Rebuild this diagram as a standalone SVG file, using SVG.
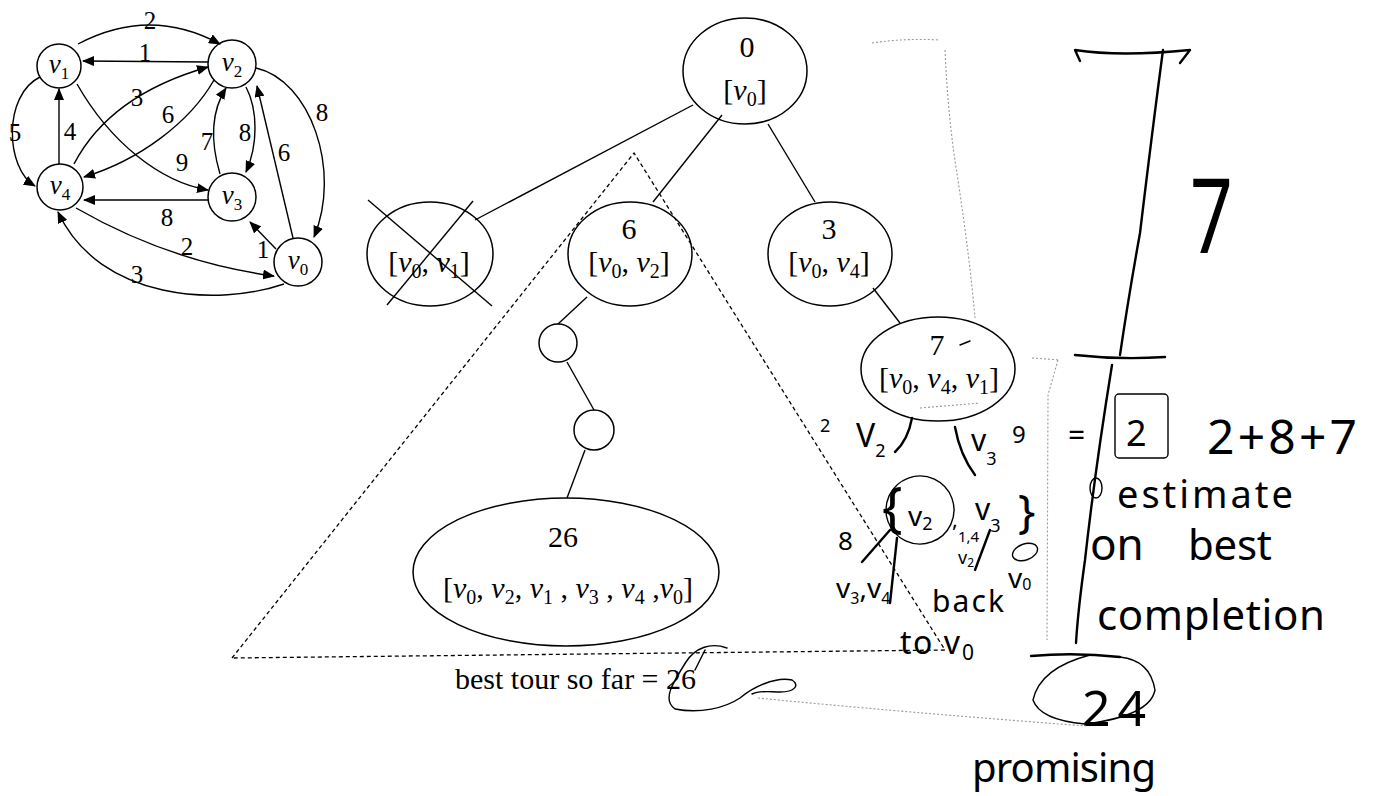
<svg xmlns="http://www.w3.org/2000/svg" width="1376" height="796" viewBox="0 0 1376 796">
<style>
.bg{fill:#fff}
.nd{fill:none;stroke:#000;stroke-width:1.5}
.ed{fill:none;stroke:#000;stroke-width:1.4}
.t{font-family:"Liberation Serif",serif;font-size:30px;fill:#000}
.g{font-family:"Liberation Serif",serif;font-size:27px;fill:#000}
.lb{font-family:"Liberation Serif",serif;font-size:25px;fill:#000;text-anchor:middle}
.i{font-style:italic}
.hw{font-family:"Noto Sans",sans-serif;fill:#000}
.hs{fill:none;stroke:#000;stroke-width:2.4;stroke-linecap:round;stroke-linejoin:round}
.hf{fill:none;stroke:#000;stroke-width:1.4;stroke-linecap:round}
.faint{fill:none;stroke:#999;stroke-width:1.1;stroke-dasharray:2 2}
.dash{fill:none;stroke:#000;stroke-width:1.3;stroke-dasharray:4 3}
</style>
<defs>
<marker id="ah" viewBox="0 0 12 10" refX="11" refY="5" markerWidth="12" markerHeight="10" orient="auto" markerUnits="userSpaceOnUse"><path d="M0,0 L12,5 L0,10 z" fill="#000"/></marker>
</defs>
<rect class="bg" x="0" y="0" width="1376" height="796"/>

<!-- small graph -->
<g id="graph-edges">
<path class="ed" d="M78,44 Q150,6 220,44" marker-end="url(#ah)"/>
<path class="ed" d="M208,62 L83,61" marker-end="url(#ah)"/>
<path class="ed" d="M74,164 Q110,95 208,67" marker-end="url(#ah)"/>
<path class="ed" d="M214,80 C190,122 140,160 84,177" marker-end="url(#ah)"/>
<path class="ed" d="M59,164 L59,89" marker-end="url(#ah)"/>
<path class="ed" d="M40,77 C3,95 5,168 35,186" marker-end="url(#ah)"/>
<path class="ed" d="M77,84 C110,142 160,182 208,190" marker-end="url(#ah)"/>
<path class="ed" d="M220,174 C210,140 212,110 226,88" marker-end="url(#ah)"/>
<path class="ed" d="M246,87 C258,110 258,145 246,172" marker-end="url(#ah)"/>
<path class="ed" d="M293,238 L257,86" marker-end="url(#ah)"/>
<path class="ed" d="M256,68 C310,80 342,170 314,237" marker-end="url(#ah)"/>
<path class="ed" d="M208,200 L84,200" marker-end="url(#ah)"/>
<path class="ed" d="M276,249 L250,222" marker-end="url(#ah)"/>
<path class="ed" d="M76,208 Q170,262 274,276" marker-end="url(#ah)"/>
<path class="ed" d="M284,284 C220,306 100,302 58,212" marker-end="url(#ah)"/>
</g>
<g id="graph-labels">
<text class="lb" x="150" y="29">2</text>
<text class="lb" x="145" y="61">1</text>
<text class="lb" x="137" y="106">3</text>
<text class="lb" x="168" y="123">6</text>
<text class="lb" x="70" y="140">4</text>
<text class="lb" x="15" y="141">5</text>
<text class="lb" x="182" y="171">9</text>
<text class="lb" x="207" y="150">7</text>
<text class="lb" x="245" y="141">8</text>
<text class="lb" x="284" y="161">6</text>
<text class="lb" x="322" y="121">8</text>
<text class="lb" x="167" y="226">8</text>
<text class="lb" x="263" y="258">1</text>
<text class="lb" x="187" y="255">2</text>
<text class="lb" x="137" y="283">3</text>
</g>
<g id="gv1"><circle class="nd" cx="59" cy="66" r="22" fill="#fff"/><text class="g" x="59" y="73" text-anchor="middle"><tspan class="i">v</tspan><tspan font-size="17" dy="6">1</tspan></text></g>
<g id="gv2"><circle class="nd" cx="232" cy="64" r="24" fill="#fff"/><text class="g" x="232" y="71" text-anchor="middle"><tspan class="i">v</tspan><tspan font-size="17" dy="6">2</tspan></text></g>
<g id="gv4"><circle class="nd" cx="60" cy="187" r="23" fill="#fff"/><text class="g" x="60" y="194" text-anchor="middle"><tspan class="i">v</tspan><tspan font-size="17" dy="6">4</tspan></text></g>
<g id="gv3"><circle class="nd" cx="232" cy="197" r="24" fill="#fff"/><text class="g" x="232" y="204" text-anchor="middle"><tspan class="i">v</tspan><tspan font-size="17" dy="6">3</tspan></text></g>
<g id="gv0"><circle class="nd" cx="298" cy="262" r="24" fill="#fff"/><text class="g" x="298" y="269" text-anchor="middle"><tspan class="i">v</tspan><tspan font-size="17" dy="6">0</tspan></text></g>

<!-- tree connectors -->
<g id="tree-edges">
<line class="ed" x1="693" y1="105" x2="475" y2="220"/>
<line class="ed" x1="722" y1="115" x2="653" y2="202"/>
<line class="ed" x1="768" y1="124" x2="815" y2="202"/>
<line class="ed" x1="587" y1="297" x2="558" y2="324"/>
<line class="ed" x1="567" y1="362" x2="594" y2="410"/>
<line class="ed" x1="585" y1="450" x2="567" y2="498"/>
<line class="ed" x1="873" y1="288" x2="900" y2="323"/>
</g>
<polygon id="subtree" class="dash" points="232,658 634,153 945,650"/>

<g id="root"><ellipse class="nd" cx="745" cy="71" rx="62" ry="53"/>
<text class="t" x="747" y="57" text-anchor="middle">0</text>
<text class="t" x="745" y="100" text-anchor="middle">[<tspan class="i">v</tspan><tspan font-size="20" dy="6">0</tspan><tspan dy="-6">]</tspan></text></g>
<g id="n-v0v1"><ellipse class="nd" cx="430" cy="254" rx="63" ry="52"/>
<text class="t" x="429" y="272" text-anchor="middle">[<tspan class="i">v</tspan><tspan font-size="20" dy="6">0</tspan><tspan dy="-6">, </tspan><tspan class="i">v</tspan><tspan font-size="20" dy="6">1</tspan><tspan dy="-6">]</tspan></text>
<line class="ed" x1="368" y1="200" x2="492" y2="306"/><line class="ed" x1="473" y1="201" x2="387" y2="305"/></g>
<g id="n-v0v2"><ellipse class="nd" cx="630" cy="254" rx="62" ry="52"/>
<text class="t" x="629" y="239" text-anchor="middle">6</text>
<text class="t" x="629" y="272" text-anchor="middle">[<tspan class="i">v</tspan><tspan font-size="20" dy="6">0</tspan><tspan dy="-6">, </tspan><tspan class="i">v</tspan><tspan font-size="20" dy="6">2</tspan><tspan dy="-6">]</tspan></text></g>
<g id="n-v0v4"><ellipse class="nd" cx="830" cy="254" rx="62" ry="52"/>
<text class="t" x="829" y="239" text-anchor="middle">3</text>
<text class="t" x="829" y="272" text-anchor="middle">[<tspan class="i">v</tspan><tspan font-size="20" dy="6">0</tspan><tspan dy="-6">, </tspan><tspan class="i">v</tspan><tspan font-size="20" dy="6">4</tspan><tspan dy="-6">]</tspan></text></g>
<g id="n-c1"><circle class="nd" cx="558" cy="343" r="19"/></g>
<g id="n-c2"><circle class="nd" cx="594" cy="430" r="20"/></g>
<g id="n-26"><ellipse class="nd" cx="566" cy="572" rx="153" ry="74"/>
<text class="t" x="563" y="547" text-anchor="middle">26</text>
<text class="t" x="568" y="598" text-anchor="middle">[<tspan class="i">v</tspan><tspan font-size="20" dy="6">0</tspan><tspan dy="-6">, </tspan><tspan class="i">v</tspan><tspan font-size="20" dy="6">2</tspan><tspan dy="-6">, </tspan><tspan class="i">v</tspan><tspan font-size="20" dy="6">1</tspan><tspan dy="-6"> , </tspan><tspan class="i">v</tspan><tspan font-size="20" dy="6">3</tspan><tspan dy="-6"> , </tspan><tspan class="i">v</tspan><tspan font-size="20" dy="6">4</tspan><tspan dy="-6"> ,</tspan><tspan class="i">v</tspan><tspan font-size="20" dy="6">0</tspan><tspan dy="-6">]</tspan></text></g>
<g id="n-v0v4v1"><ellipse class="nd" cx="938" cy="369" rx="77" ry="52"/>
<text class="t" x="937" y="355" text-anchor="middle">7</text>
<text class="t" x="939" y="388" text-anchor="middle">[<tspan class="i">v</tspan><tspan font-size="20" dy="6">0</tspan><tspan dy="-6">, </tspan><tspan class="i">v</tspan><tspan font-size="20" dy="6">4</tspan><tspan dy="-6">, </tspan><tspan class="i">v</tspan><tspan font-size="20" dy="6">1</tspan><tspan dy="-6">]</tspan></text></g>
<text id="best" class="t" x="455" y="689">best tour so far = 26</text>

<!-- handwritten annotations -->
<g id="handwriting">
<path class="hf" d="M960,345 L970,341"/>
<path class="faint" d="M920,408 L980,403"/>
<path class="hs" d="M912,418 Q908,440 895,452"/>
<path class="hs" d="M955,427 Q960,455 975,475"/>
<text class="hw" x="820" y="432" font-size="18">2</text>
<text class="hw" x="856" y="447" font-size="32">V<tspan font-size="18" dy="10">2</tspan></text>
<text class="hw" x="971" y="451" font-size="30">v<tspan font-size="18" dy="14">3</tspan></text>
<text class="hw" x="1012" y="443" font-size="24">9</text>
<text class="hw" x="882" y="526" font-size="54">{</text>
<ellipse class="hf" cx="920" cy="510" rx="34" ry="34" transform="rotate(-20 920 510)"/>
<text class="hw" x="908" y="526" font-size="28">v<tspan font-size="18" dy="4">2</tspan></text>
<text class="hw" x="952" y="527" font-size="22">,</text>
<text class="hw" x="975" y="520" font-size="30">v<tspan font-size="18" dy="12">3</tspan></text>
<text class="hw" x="1018" y="528" font-size="46">}</text>
<text class="hw" x="838" y="550" font-size="26">8</text>
<path class="hs" d="M890,530 L862,562"/>
<path class="hs" d="M897,538 L890,603"/>
<text class="hw" x="836" y="598" font-size="28">v<tspan font-size="16" dy="6">3</tspan><tspan dy="-6">,</tspan>v<tspan font-size="16" dy="6">4</tspan></text>
<text class="hw" x="958" y="542" font-size="15">1,4</text>
<text class="hw" x="958" y="564" font-size="18">v<tspan font-size="12" dy="3">2</tspan></text>
<path class="hs" d="M990,530 L975,570"/>
<ellipse class="hf" cx="1025" cy="552" rx="13" ry="8" transform="rotate(-20 1025 552)"/>
<text class="hw" x="1008" y="588" font-size="28">v<tspan font-size="16" dy="2">0</tspan></text>
<text class="hw" x="932" y="612" font-size="30" textLength="72" lengthAdjust="spacing">back</text>
<text class="hw" x="900" y="654" font-size="32" textLength="60" lengthAdjust="spacing">to v</text>
<text class="hw" x="962" y="660" font-size="21">0</text>

<path class="faint" d="M872,43 Q905,38 940,40 M945,50 Q948,120 958,180 Q970,260 975,318"/>
<path class="faint" d="M1032,358 L1060,360 M1058,360 L1048,395 L1047,640"/>

<path class="hs" d="M1080,61 L1075,50 Q1120,57 1190,50 L1180,63"/>
<path class="hs" stroke-width="3" d="M1163,50 Q1152,133 1140,233 Q1128,300 1120,355"/>
<path class="hs" d="M1075,355 Q1120,360 1165,357"/>
<text class="hw" x="0" y="0" font-size="104" transform="translate(1190,253) scale(0.72,1)">7</text>

<path class="hs" stroke-width="3" d="M1112,365 Q1095,470 1085,560 Q1078,610 1076,643"/>
<ellipse class="hf" cx="1096" cy="488" rx="6" ry="10"/>
<text class="hw" x="1068" y="446" font-size="30">=</text>
<rect class="hf" x="1115" y="394" width="53" height="64" rx="4"/>
<text class="hw" x="1126" y="446" font-size="36">2</text>
<text class="hw" x="1207" y="454" font-size="48" textLength="150" lengthAdjust="spacing">2+8+7</text>
<text class="hw" x="1117" y="508" font-size="38" textLength="176" lengthAdjust="spacing">estimate</text>
<text class="hw" x="1090" y="560" font-size="44">on</text>
<text class="hw" x="1188" y="560" font-size="42" textLength="84" lengthAdjust="spacing">best</text>
<text class="hw" x="1097" y="630" font-size="42" textLength="228" lengthAdjust="spacing">completion</text>

<path class="hs" d="M1031,656 Q1075,652 1120,657"/>
<path class="hf" d="M1120,657 Q1150,660 1155,690 Q1150,716 1085,724 Q1040,720 1033,700 Q1040,668 1090,655"/>
<text class="hw" x="1082" y="726" font-size="50" textLength="64" lengthAdjust="spacing">24</text>
<text class="hw" x="972" y="782" font-size="40" textLength="184" lengthAdjust="spacing">promising</text>

<path class="hf" d="M727,648 C710,642 695,648 686,662 C672,684 662,700 675,709 C700,714 725,708 740,698 C752,688 775,676 792,680 C800,685 795,692 780,692 C770,692 760,690 752,694"/>
<path class="faint" d="M758,698 Q900,712 1086,726"/>
<path class="hf" d="M695,670 L705,650"/>
</g>
</svg>
